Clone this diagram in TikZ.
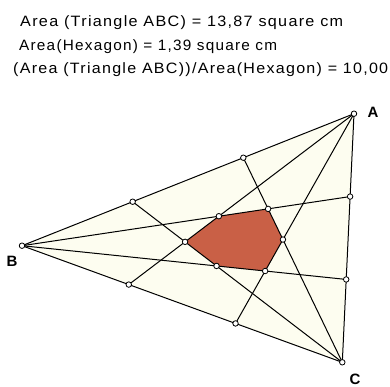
\documentclass[tikz,border=0pt]{standalone}
\usepackage{fontspec}
\usepackage{graphicx}
\setmainfont{Liberation Sans}
\newfontfamily\txtfont[LetterSpace=8]{Liberation Sans}
\usetikzlibrary{calc}
\definecolor{cream}{RGB}{253,253,240}
\definecolor{hexred}{RGB}{201,96,70}
\begin{document}
\begin{tikzpicture}[x=1pt,y=-1pt,
  pt/.style={circle,draw=black,fill=white,line width=0.8pt,inner sep=0pt,minimum size=5.5pt},
  edge/.style={line width=1pt,black},
  lbl/.style={font=\fontsize{15}{15}\selectfont\bfseries,inner sep=0pt},
  info/.style={anchor=base west,inner sep=0pt,font=\txtfont\fontsize{15}{15}\selectfont}]
\useasboundingbox (0,0) rectangle (390,386);
% vertices
\coordinate (A) at (354,113.7);
\coordinate (B) at (22,245.7);
\coordinate (C) at (342.3,362.3);
% trisection points
\coordinate (Pa1) at ($(B)!1/3!(C)$);
\coordinate (Pa2) at ($(B)!2/3!(C)$);
\coordinate (Pb1) at ($(A)!1/3!(C)$);
\coordinate (Pb2) at ($(A)!2/3!(C)$);
\coordinate (Pc1) at ($(B)!1/3!(A)$);
\coordinate (Pc2) at ($(B)!2/3!(A)$);
% hexagon vertices
\coordinate (V1) at (intersection of A--Pa1 and C--Pc1);
\coordinate (V2) at (intersection of A--Pa1 and B--Pb1);
\coordinate (V3) at (intersection of B--Pb1 and C--Pc2);
\coordinate (V4) at (intersection of C--Pc2 and A--Pa2);
\coordinate (V5) at (intersection of A--Pa2 and B--Pb2);
\coordinate (V6) at (intersection of B--Pb2 and C--Pc1);
% fills
\fill[cream] (A) -- (B) -- (C) -- cycle;
\fill[hexred] (V1) -- (V2) -- (V3) -- (V4) -- (V5) -- (V6) -- cycle;
% cevians
\draw[edge] (A) -- (Pa1);
\draw[edge] (A) -- (Pa2);
\draw[edge] (B) -- (Pb1);
\draw[edge] (B) -- (Pb2);
\draw[edge] (C) -- (Pc1);
\draw[edge] (C) -- (Pc2);
\draw[edge,line join=round] (A) -- (B) -- (C) -- cycle;
% points
\foreach \p in {A,B,C,Pa1,Pa2,Pb1,Pb2,Pc1,Pc2,V1,V2,V3,V4,V5,V6}
  \node[pt] (n\p) at (\p) {};
% labels
\node[lbl] (lA) at (373,112.7) {A};
\node[lbl] (lB) at (12,261) {B};
\node[lbl] (lC) at (355,379) {C};
% texts
\node[info] (t1) at (20,26.7) {\resizebox{323pt}{\height}{Area (Triangle ABC) = 13,87 square cm}};
\node[info] (t2) at (19,50) {\resizebox{258pt}{\height}{Area(Hexagon) = 1,39 square cm}};
\node[info] (t3) at (13,73.8) {\resizebox{375pt}{\height}{(Area (Triangle ABC))/Area(Hexagon) = 10,00}};
\end{tikzpicture}
\end{document}
